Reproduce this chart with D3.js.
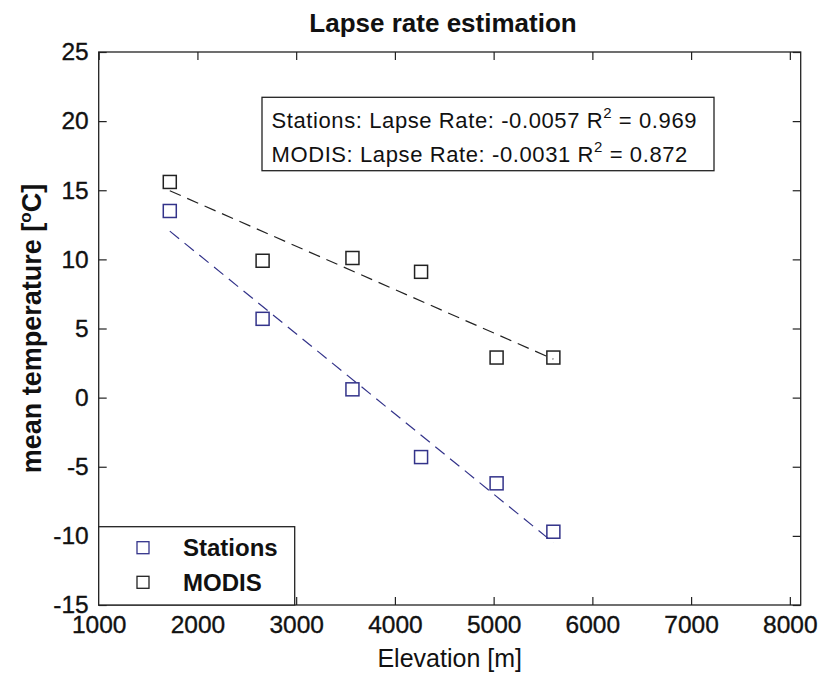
<!DOCTYPE html>
<meta charset="utf-8">
<script src="https://d3js.org/d3.v7.min.js"></script>
<style>
  body { margin: 0; background: #fff; }
  text { font-family: "Liberation Sans", Arial, sans-serif; fill: #111; }
</style>
<div id="chart"></div>
<script>
// values
var elevation = [1720, 2660, 3570, 4265, 5030, 5605];
var stations  = [13.5, 5.7, 0.6, -4.3, -6.2, -9.7];
var modis     = [15.6, 9.9, 10.1, 9.1, 2.9, 2.9];

var xTicks = [1000, 2000, 3000, 4000, 5000, 6000, 7000, 8000];
var yTicks = [-15, -10, -5, 0, 5, 10, 15, 20, 25];

var seriesNames = ["Stations", "MODIS"];
var seriesColors = ["#33338a", "#222222"];
var boxLines = [
  ["Stations: Lapse Rate: -0.0057 R", "2", " = 0.969"],
  ["MODIS: Lapse Rate: -0.0031 R", "2", " = 0.872"]
];

var W = 819, H = 676;
var pLeft = 98.7, pRight = 800.7, pTop = 52, pBottom = 605;

var svg = d3.select("#chart").append("svg")
  .attr("width", W).attr("height", H);

var x = d3.scaleLinear().domain([1000, 8110]).range([pLeft, pRight]);
var y = d3.scaleLinear().domain([-15, 25]).range([pBottom, pTop]);

// axes, ticks pointing inward like matlab
var tick = 8;
var fmt = function(d) { return String(d); };  // plain hyphen minus
function styleLabels(g) {
  g.select(".domain").remove();
  g.selectAll("text").style("font-size", "24.5px")
    .attr("fill", "#111").attr("stroke", "#111").attr("stroke-width", 0.35);
}
svg.append("g").attr("transform", "translate(0," + pBottom + ")")
  .call(d3.axisBottom(x).tickValues(xTicks).tickFormat(fmt).tickSizeInner(-tick).tickSizeOuter(0).tickPadding(11))
  .call(styleLabels);
svg.append("g").attr("transform", "translate(0," + pTop + ")")
  .call(d3.axisTop(x).tickValues(xTicks).tickSizeInner(-tick).tickSizeOuter(0).tickFormat(""))
  .call(function(g) { g.select(".domain").remove(); });
svg.append("g").attr("transform", "translate(" + pLeft + ",0)")
  .call(d3.axisLeft(y).tickValues(yTicks).tickFormat(fmt).tickSizeInner(-tick).tickSizeOuter(0).tickPadding(10))
  .call(styleLabels);
svg.append("g").attr("transform", "translate(" + pRight + ",0)")
  .call(d3.axisRight(y).tickValues(yTicks).tickSizeInner(-tick).tickSizeOuter(0).tickFormat(""))
  .call(function(g) { g.select(".domain").remove(); });

svg.selectAll(".tick line").attr("stroke", "#222").attr("stroke-width", 1.2);

// frame
svg.append("rect")
  .attr("x", pLeft).attr("y", pTop)
  .attr("width", pRight - pLeft).attr("height", pBottom - pTop)
  .attr("fill", "none").attr("stroke", "#222").attr("stroke-width", 1.3);

// least squares fit of each series
function fit(xs, ys) {
  var mx = d3.mean(xs), my = d3.mean(ys);
  var sxy = d3.sum(xs, function(v, i) { return (v - mx) * (ys[i] - my); });
  var sxx = d3.sum(xs, function(v) { return (v - mx) * (v - mx); });
  var b = sxy / sxx;
  return function(v) { return my + b * (v - mx); };
}

var allSeries = [stations, modis];
var ext = d3.extent(elevation);
allSeries.forEach(function(vals, k) {
  var f = fit(elevation, vals);
  svg.append("line")
    .attr("x1", x(ext[0])).attr("y1", y(f(ext[0])))
    .attr("x2", x(ext[1])).attr("y2", y(f(ext[1])))
    .attr("stroke", seriesColors[k]).attr("stroke-width", 1.2)
    .attr("stroke-dasharray", "12,7");
});

var ms = 13;
allSeries.forEach(function(vals, k) {
  svg.append("g").selectAll("rect")
    .data(vals).enter().append("rect")
    .attr("x", function(d, i) { return x(elevation[i]) - ms / 2; })
    .attr("y", function(d) { return y(d) - ms / 2; })
    .attr("width", ms).attr("height", ms)
    .attr("fill", "none").attr("stroke", seriesColors[k]).attr("stroke-width", 1.5);
});

// text box
var tb = svg.append("g");
tb.append("rect")
  .attr("x", 262).attr("y", 97.3).attr("width", 452).attr("height", 73.4)
  .attr("fill", "#fff").attr("stroke", "#222").attr("stroke-width", 1.3);
boxLines.forEach(function(parts, i) {
  var t = tb.append("text")
    .attr("x", 271.5).attr("y", 128.3 + i * 33.4)
    .style("font-size", "22px").style("letter-spacing", "0.6px").attr("fill", "#222");
  t.append("tspan").text(parts[0]);
  t.append("tspan").attr("dy", -10).style("font-size", "15px").text(parts[1]);
  t.append("tspan").attr("dy", 10).text(parts[2]);
});

// legend
var lg = svg.append("g");
lg.append("rect")
  .attr("x", pLeft).attr("y", 526.7).attr("width", 196).attr("height", pBottom - 526.7)
  .attr("fill", "#fff").attr("stroke", "#222").attr("stroke-width", 1.3);
seriesNames.forEach(function(name, i) {
  var cy = 547.7 + i * 34.6;
  lg.append("rect")
    .attr("x", 143 - 6).attr("y", cy - 6).attr("width", 12).attr("height", 12)
    .attr("fill", "none").attr("stroke", seriesColors[i]).attr("stroke-width", 1.3);
  lg.append("text")
    .attr("x", 183).attr("y", cy + 8.5)
    .style("font-size", "24px").style("font-weight", "bold")
    .text(name);
});

// titles
svg.append("text")
  .attr("x", 443).attr("y", 31.7).attr("text-anchor", "middle")
  .style("font-size", "26px").style("font-weight", "bold")
  .text("Lapse rate estimation");

svg.append("text")
  .attr("x", (pLeft + pRight) / 2).attr("y", 667).attr("text-anchor", "middle")
  .style("font-size", "25px")
  .text("Elevation [m]");

var yl = svg.append("text")
  .attr("transform", "translate(41," + ((pTop + pBottom) / 2) + ") rotate(-90)")
  .attr("text-anchor", "middle")
  .style("font-size", "27px").style("font-weight", "bold");
yl.append("tspan").text("mean temperature [");
yl.append("tspan").attr("dy", -10).style("font-size", "17px").text("o");
yl.append("tspan").attr("dy", 10).text("C]");
</script>
